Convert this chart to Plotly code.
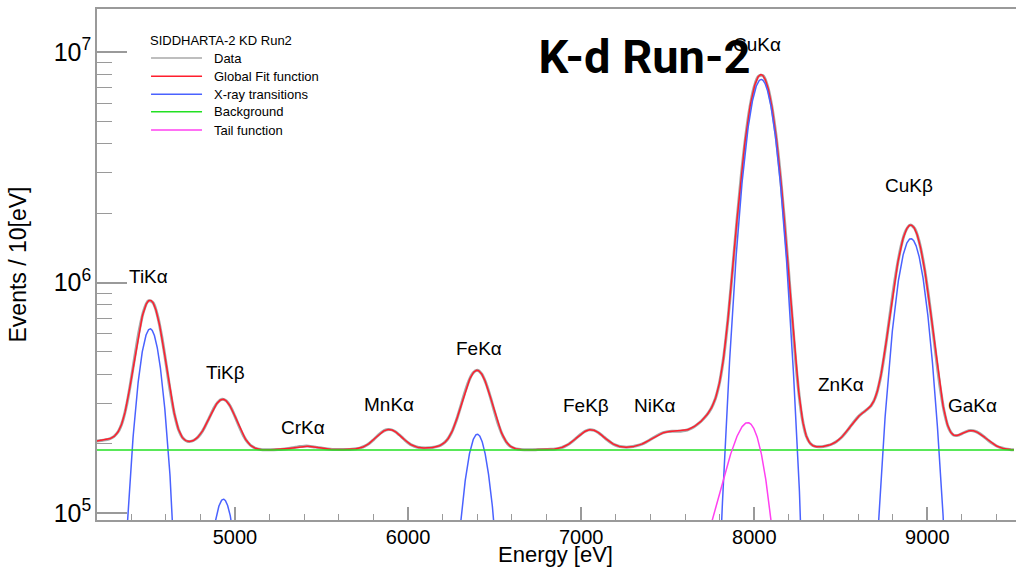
import math
import numpy as np
import plotly.graph_objects as go

# X-ray lines included in the global fit
LINE_LABELS = ["TiKα", "TiKβ", "CrKα", "MnKα", "FeKα", "FeKβ", "NiKα", "CuKα", "ZnKα", "CuKβ", "GaKα"]
LINE_ENERGY = [4510, 4933, 5412, 5890, 6400, 7055, 7485, 8040, 8638, 8905, 9255]   # eV
LINE_HEIGHT = [6.3e5, 1.15e5, 7.0e3, 4.1e4, 2.2e5, 4.0e4, 2.0e4, 7.6e6, 6.0e4, 1.55e6, 3.9e4]
LINE_SIGMA = [67, 69, 70, 71, 72.5, 75, 75.5, 77, 78.5, 79, 80]                     # eV
# low-energy tail of each line: height and slope (in units of sigma)
TAIL_HEIGHT = [1.5e4, 1.0e4, 270, 1.6e3, 1.3e4, 1.5e3, 770, 2.94e5, 2.3e3, 6.0e4, 1.5e3]
TAIL_BETA = [6, 6, 2, 2, 2, 2, 2, 2, 2, 2, 2]
BACKGROUND = 1.88e5

FIT_MIN, FIT_MAX = 4200, 9500

# measured spectrum, 10 eV bins, shown every 25 eV from 4200 eV (thousands of events)
DATA_KCOUNTS = [
    205.3, 206.5, 207.9, 210.1, 214.8, 225.3, 249.2, 296.7, 378.5, 496.6, 636.0, 761.9, 832.5,
    820.8, 730.4, 594.4, 455.0, 343.1, 269.7, 229.4, 211.1, 204.9, 205.2, 210.0, 219.9, 235.9,
    257.8, 281.8, 302.1, 311.6, 306.7, 288.4, 262.8, 237.0, 216.2, 202.3, 194.4, 190.5, 188.9,
    188.4, 188.3, 188.4, 188.7, 189.3, 190.2, 191.5, 193.0, 194.4, 195.2, 195.2, 194.3, 192.9,
    191.5, 190.2, 189.4, 188.9, 188.7, 188.7, 188.8, 189.2, 190.2, 192.0, 195.3, 200.6, 208.1,
    216.8, 224.8, 229.9, 230.3, 226.0, 218.3, 209.7, 202.1, 196.7, 193.6, 192.2, 191.9, 192.2,
    193.3, 195.3, 199.3, 207.5, 222.6, 247.6, 283.6, 327.8, 372.1, 405.0, 416.1, 401.5, 365.8,
    319.6, 274.6, 238.7, 214.4, 200.2, 193.1, 190.0, 188.8, 188.5, 188.4, 188.5, 188.6, 188.7,
    188.9, 189.2, 189.9, 191.4, 194.1, 198.4, 204.8, 212.5, 220.5, 227.0, 229.9, 228.6, 223.4,
    215.9, 208.1, 201.6, 197.0, 194.4, 193.4, 193.4, 194.4, 196.4, 199.3, 203.4, 208.5, 214.1,
    219.3, 223.4, 225.7, 226.5, 226.4, 226.7, 228.1, 231.4, 236.6, 244.0, 253.5, 266.0, 283.9,
    313.5, 370.4, 486.2, 717.2, 1145, 1858, 2914, 4272, 5755, 7059, 7848, 7891, 7168, 5886,
    4377, 2961, 1841, 1075, 617.5, 376.1, 263.4, 216.7, 199.8, 194.7, 193.9, 194.7, 196.5,
    199.5, 204.4, 211.8, 222.0, 234.7, 248.5, 261.5, 272.1, 280.9, 292.9, 318.4, 373.6, 478.0,
    647.7, 885.4, 1170, 1455, 1676, 1774, 1720, 1529, 1251, 950.7, 683.9, 480.8, 346.5, 269.3,
    231.9, 218.4, 217.4, 221.5, 225.9, 228.0, 226.6, 221.9, 215.0, 207.5, 200.8, 195.6, 192.1,
    190.0, 188.9, 188.4,
]
DATA_STEP = 25  # eV

erfc = np.vectorize(math.erfc)


def gauss(e, mu, h, s):
    return h * np.exp(-0.5 * ((e - mu) / s) ** 2)


def tail(e, mu, h, s, b):
    u = (e - mu) / s
    return h * np.exp(u / b) * erfc(u / math.sqrt(2) + 1 / (math.sqrt(2) * b))


# fit components evaluated on a fine energy grid
e = np.arange(FIT_MIN, FIT_MAX + 0.1, 2.0)
peaks = sum(gauss(e, m, h, s) for m, h, s in zip(LINE_ENERGY, LINE_HEIGHT, LINE_SIGMA))
tails = sum(tail(e, m, h, s, b) for m, h, s, b in zip(LINE_ENERGY, TAIL_HEIGHT, LINE_SIGMA, TAIL_BETA))
bkg = np.full_like(e, BACKGROUND)
total = bkg + peaks + tails

data_x = FIT_MIN + DATA_STEP * np.arange(len(DATA_KCOUNTS))
data_y = np.array(DATA_KCOUNTS) * 1e3

# individual transitions, each drawn over +-5 sigma
bx, by = [], []
for m, h, s in zip(LINE_ENERGY, LINE_HEIGHT, LINE_SIGMA):
    xs = np.arange(m - 5 * s, m + 5 * s + 0.1, 1.0)
    bx += list(xs) + [None]
    by += list(gauss(xs, m, h, s)) + [None]

FONT = "Liberation Sans, Arial, sans-serif"
AXIS_GREY = "#9a9a9a"
STYLES = {
    "Data": dict(color="#a8a8a8", width=3, shape="spline"),
    "Global Fit function": dict(color="#ff1e2d", width=1.5),
    "X-ray transitions": dict(color="#4a62ff", width=1.5),
    "Background": dict(color="#22e022", width=1.5),
    "Tail function": dict(color="#ff40f0", width=1.5),
}

fig = go.Figure()
series = [("Data", data_x, data_y), ("Global Fit function", e, total), ("X-ray transitions", bx, by),
          ("Background", e, bkg), ("Tail function", e, tails)]
for name, xs, ys in series:
    fig.add_trace(go.Scatter(x=xs, y=ys, mode="lines", name=name, line=STYLES[name], showlegend=False))

# peak labels (energy, log10 of height)
label_pos = [(4503, 6.025), (4948, 5.612), (5393, 5.373), (5890, 5.473), (6410, 5.716),
             (7028, 5.468), (7427, 5.468), (8016, 7.034), (8501, 5.56), (8894, 6.42), (9258, 5.468)]
for txt, (lx, ly) in zip(LINE_LABELS, label_pos):
    fig.add_annotation(x=lx, y=ly, text=txt, showarrow=False, xanchor="center", yanchor="middle",
                       font=dict(family=FONT, size=19, color="black"))

# legend box in the upper left of the frame (paper coordinates of the plot area)
fig.add_annotation(x=0.0552, y=0.9393, xref="paper", yref="paper", text="SIDDHARTA-2 KD Run2",
                   showarrow=False, xanchor="left", yanchor="middle",
                   font=dict(family=FONT, size=13, color="black"))
row_y = [0.9041, 0.8683, 0.8331, 0.7990, 0.7632]
for (name, _, _), ry in zip(series, row_y):
    st = STYLES[name]
    fig.add_shape(type="line", xref="paper", yref="paper", x0=0.0588, x1=0.1143, y0=ry, y1=ry,
                  line=dict(color=st["color"], width=1.5))
    fig.add_annotation(x=0.1255, y=ry, xref="paper", yref="paper", text=name, showarrow=False,
                       xanchor="left", yanchor="middle", font=dict(family=FONT, size=13, color="black"))

# x-axis title sits low, running into the lower edge of the canvas
fig.add_annotation(x=0.4984, y=-0.0385, xref="paper", yref="paper", text="Energy [eV]",
                   showarrow=False, xanchor="center", yanchor="top",
                   font=dict(family=FONT, size=22, color="black"))

fig.update_layout(
    width=1016, height=567,
    margin=dict(l=97, r=0, t=9, b=47),
    paper_bgcolor="white", plot_bgcolor="white",
    showlegend=False,
    title=dict(text="K-d Run-2", x=644.5 / 1016, y=1 - 57 / 567, xanchor="center", yanchor="middle",
               font=dict(family="Roboto, Liberation Sans, sans-serif", size=47, color="black", weight="bold")),
    xaxis=dict(range=[4203, 9512], dtick=1000, tick0=0, ticks="inside", ticklen=13, tickwidth=1.5,
               tickcolor=AXIS_GREY, showline=True, mirror=True, linecolor=AXIS_GREY, linewidth=1.5,
               showgrid=False, zeroline=False, automargin=False, ticklabelstandoff=-2,
               minor=dict(dtick=200, ticks="inside", ticklen=6.5, tickwidth=1.2, tickcolor=AXIS_GREY, showgrid=False),
               tickfont=dict(family=FONT, size=20, color="black")),
    yaxis=dict(type="log", range=[4.9704, 7.186], dtick=1, exponentformat="power", ticks="inside",
               ticklen=30, tickwidth=1.5, tickcolor=AXIS_GREY, showline=True, linecolor=AXIS_GREY,
               linewidth=1.5, showgrid=False, zeroline=False, automargin=False,
               minor=dict(dtick="D1", ticks="inside", ticklen=15, tickwidth=1.2, tickcolor=AXIS_GREY, showgrid=False),
               tickfont=dict(family=FONT, size=20, color="black"),
               title=dict(text="Events / 10[eV]", font=dict(family=FONT, size=23, color="black"), standoff=21)),
)

fig.write_html("out.html")
